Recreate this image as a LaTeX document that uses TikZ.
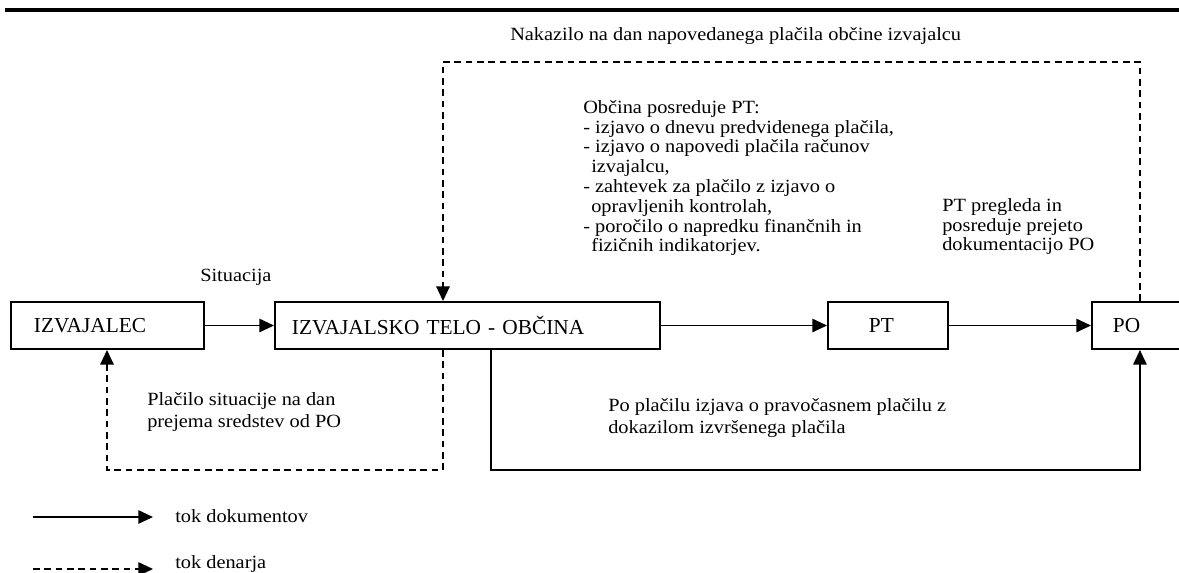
\documentclass[tikz,border=0pt]{standalone}
\usepackage{fontspec}
\setmainfont{Liberation Serif}
\newfontfamily\lblfont{Liberation Serif}[FakeStretch=1.09]
\usetikzlibrary{arrows.meta}
\tikzset{
  box/.style={draw, line width=1.4pt, anchor=west, minimum height=35.25pt, inner xsep=0pt, inner ysep=0pt, align=left, font=\fontsize{16}{19}\selectfont},
  lbl/.style={anchor=base west, inner sep=0pt, align=left, font=\lblfont\fontsize{14}{14.85}\selectfont},
  lblwide/.style={lbl, font=\lblfont\fontsize{14}{16.5}\selectfont},
  conn/.style={line width=1.4pt, -{Triangle[length=11pt,width=10pt]}},
  dashconn/.style={conn, dash pattern=on 5pt off 3.5pt},
}
\begin{document}
\begin{tikzpicture}[x=0.75pt,y=-0.75pt]
\useasboundingbox (0,0) rectangle (1179,572);
% top rule
\draw[line width=2.4pt] (5,10) -- (1185,10);
% boxes
\node[box, text width=144.75pt] (izv) at (10,325.5) {\hspace*{17.25pt}IZVAJALEC};
\node[box, text width=288.75pt] (it) at (274,325.5) {\hspace*{12.75pt}IZVAJALSKO TELO - OBČINA};
\node[box, text width=90pt] (pt) at (827,325.5) {\hspace*{30.75pt}PT};
\node[box, text width=72pt] (po) at (1091,325.5) {\hspace*{15.75pt}PO};
% coordinates
\coordinate (tl) at (443,62);
\coordinate (bl) at (107,470);
\coordinate (br) at (491,470);
% solid connectors
\draw[conn] (izv.east) -- (it.west);
\draw[conn] (it.east) -- (pt.west);
\draw[conn] (pt.east) -- (po.west);
\draw[conn] (br |- it.south) -- (br) -| (po.south);
% dashed connectors
\draw[dashconn] (po.north) |- (tl) -- (tl |- it.north);
\draw[dashconn] (tl |- it.south) |- (bl) -- (bl |- izv.south);
% labels
\node[lbl] (nak) at (510,40) {Nakazilo na dan napovedanega plačila občine izvajalcu};
\node[lbl, anchor=north west] (obc) at (583,100) {Občina posreduje PT:\\
- izjavo o dnevu predvidenega plačila,\\
- izjavo o napovedi plačila računov\\
\hspace*{6pt}izvajalcu,\\
- zahtevek za plačilo z izjavo o\\
\hspace*{6pt}opravljenih kontrolah,\\
- poročilo o napredku finančnih in\\
\hspace*{6pt}fizičnih indikatorjev.};
\node[lbl, anchor=north west] (ptp) at (942,198) {PT pregleda in\\posreduje prejeto\\dokumentacijo PO};
\node[lbl] (sit) at (200,281) {Situacija};
\node[lblwide, anchor=north west] (pla) at (147,392) {Plačilo situacije na dan\\prejema sredstev od PO};
\node[lblwide, anchor=north west] (pop) at (608,398) {Po plačilu izjava o pravočasnem plačilu z\\dokazilom izvršenega plačila};
% legend
\coordinate (l1a) at (33,517);
\coordinate (l1b) at (153,517);
\coordinate (l2a) at (33,569);
\coordinate (l2b) at (153,569);
\draw[conn] (l1a) -- (l1b);
\draw[dashconn] (l2a) -- (l2b);
\node[lbl, anchor=west] (tok1) at (175,516) {tok dokumentov};
\node[lbl, anchor=west] (tok2) at (175,564) {tok denarja};
\end{tikzpicture}
\end{document}
